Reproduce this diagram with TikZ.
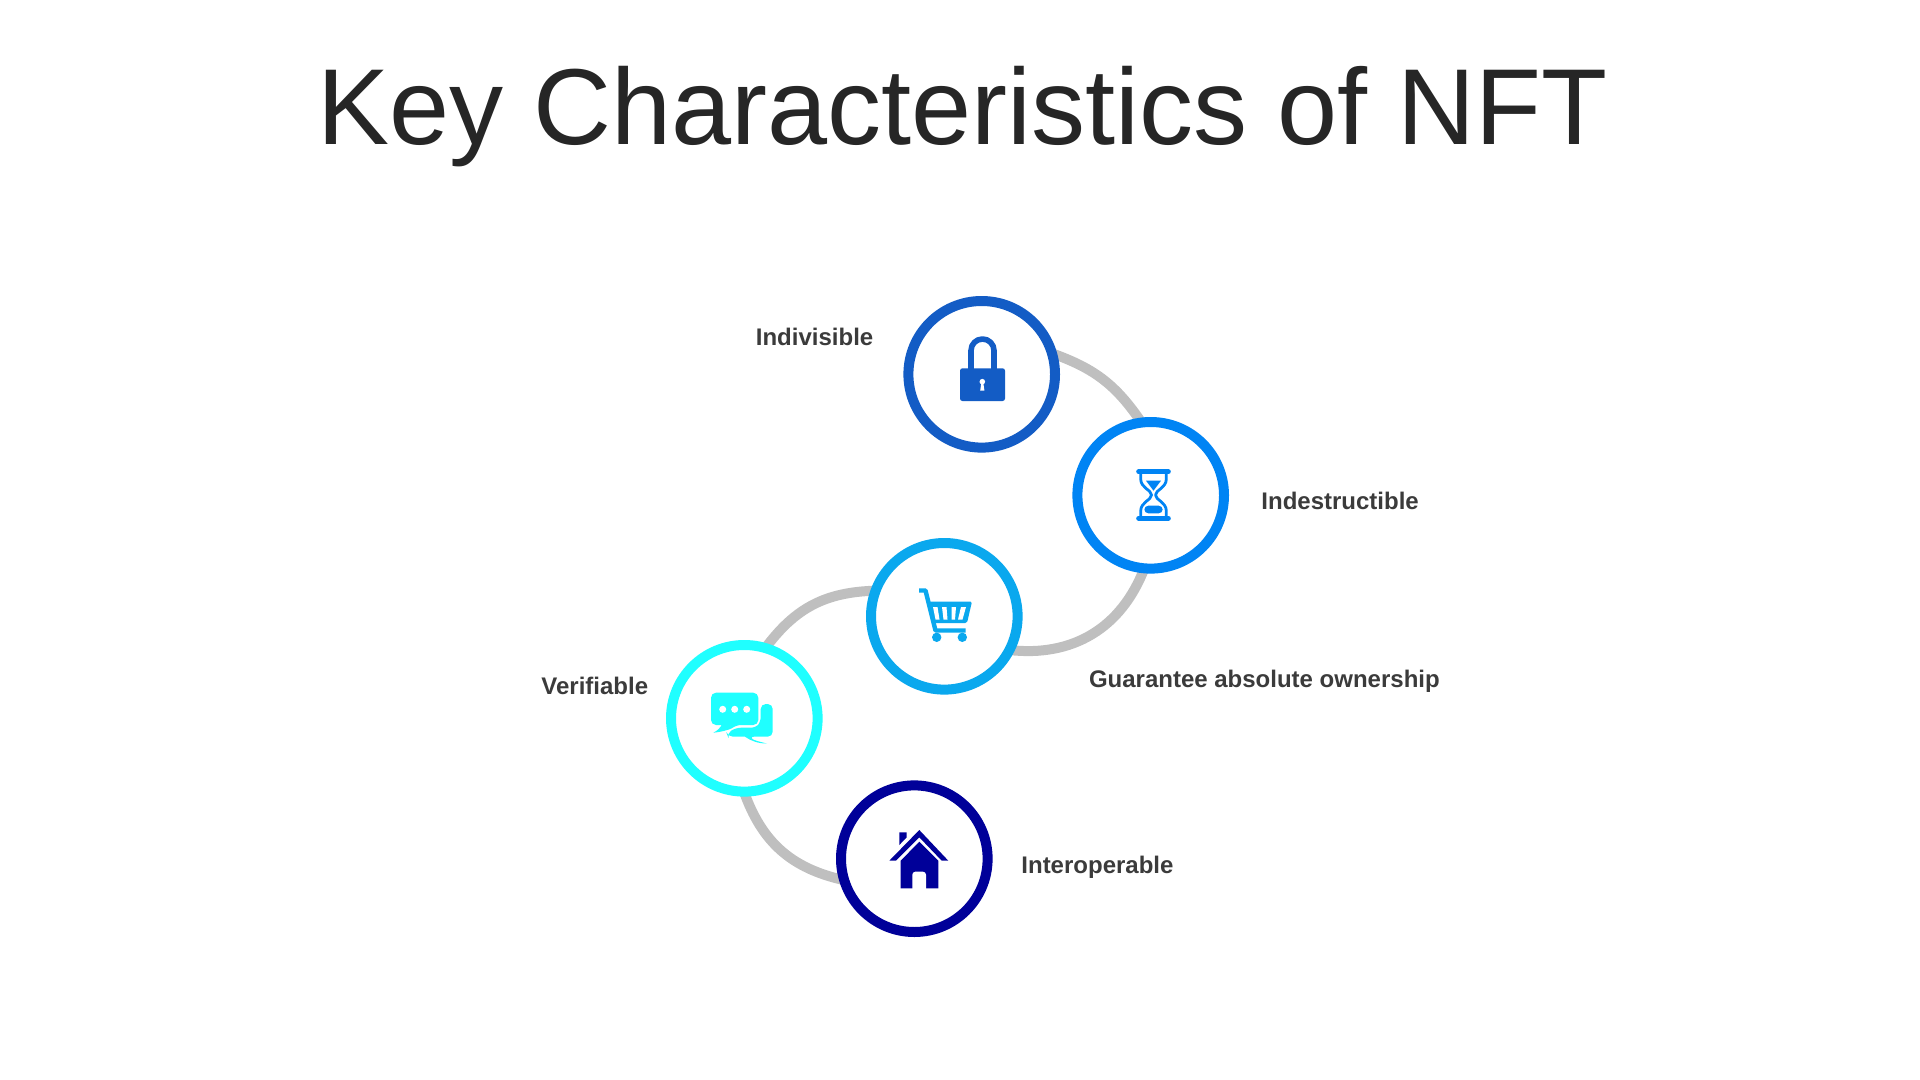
\documentclass[tikz,border=0pt]{standalone}
\usepackage{fontspec}
\setmainfont{Liberation Sans}
\usetikzlibrary{backgrounds}
\definecolor{lockblue}{HTML}{135CC5}
\definecolor{hourblue}{HTML}{0084F4}
\definecolor{cartblue}{HTML}{0AA8EE}
\definecolor{chatcyan}{HTML}{1FFFFF}
\definecolor{housenavy}{HTML}{000099}
\definecolor{arcgray}{HTML}{BFBFBF}
\definecolor{labelgray}{HTML}{3B3B3B}
\definecolor{titlegray}{HTML}{262626}
\begin{document}
\begin{tikzpicture}[x=0.5pt, y=-0.5pt, line join=round,
	ring/.style={circle, draw, fill=white, line width=5pt, minimum size=73.3pt, inner sep=0pt},
	arcline/.style={draw=arcgray, line width=5pt, shorten <=-3pt, shorten >=-3pt},
	itemlabel/.style={anchor=base west, inner sep=0pt, text=labelgray, font=\fontsize{12}{15}\selectfont\bfseries}]
	\useasboundingbox (0,0) rectangle (1920,1080);
	\node[anchor=base, inner sep=0pt, text=titlegray, font=\fontsize{54}{60}\selectfont] (title) at (962.5,145) {Key Characteristics of NFT};
	% rings
	\node[ring, draw=lockblue] (lock) at (981.7,374.3) {};
	\node[ring, draw=hourblue] (hourglass) at (1150.7,495.3) {};
	\node[ring, draw=cartblue] (cart) at (944.3,616.3) {};
	\node[ring, draw=chatcyan] (chat) at (744.3,718.3) {};
	\node[ring, draw=housenavy] (house) at (914.3,858.7) {};
	% grey arcs behind the rings
	\begin{scope}[on background layer]
		\draw[arcline] (lock.14) to[bend left=18] (hourglass.99);
		\draw[arcline] (hourglass.264) to[bend left=38] (cart.334);
		\draw[arcline] (cart.161) to[bend right=26] (chat.72);
		\draw[arcline] (chat.271) to[bend right=29] (house.195);
	\end{scope}
	% labels
	\node[itemlabel] (indivisible) at (755.5,345.7) {Indivisible};
	\node[itemlabel] (indestructible) at (1261,509.2) {Indestructible};
	\node[itemlabel] (ownership) at (1088.6,687.2) {Guarantee absolute ownership};
	\node[itemlabel] (verifiable) at (541,694.7) {Verifiable};
	\node[itemlabel] (interoperable) at (1021,873.2) {Interoperable};
	% lock
	\draw[lockblue, line width=2.8pt] (971,369)--(971,350.5) arc (180:360:11.5)--(994,369);
	\fill[lockblue, rounded corners=1.2pt] (960,368.3) rectangle (1005,401);
	\fill[white] (982.3,381.7) circle (2.8);
	\fill[white] (981.3,383)--(983.3,383)--(984.4,390.5)--(980.2,390.5)--cycle;
	% hourglass
	\draw[hourblue, line width=2.3pt, line cap=round] (1138.5,471.7)--(1168.5,471.7);
	\draw[hourblue, line width=2.3pt, line cap=round] (1138.5,518.3)--(1168.5,518.3);
	\draw[hourblue, line width=1.4pt] (1140.7,472)--(1140.7,479) .. controls (1140.7,488) and (1151.5,490) .. (1151.5,495) .. controls (1151.5,500) and (1140.7,502) .. (1140.7,511)--(1140.7,518);
	\draw[hourblue, line width=1.4pt] (1166.3,472)--(1166.3,479) .. controls (1166.3,488) and (1155.5,490) .. (1155.5,495) .. controls (1155.5,500) and (1166.3,502) .. (1166.3,511)--(1166.3,518);
	\fill[hourblue] (1146,480.7)--(1161,480.7)--(1153.5,490.7)--cycle;
	\fill[hourblue, rounded corners=2pt] (1144.3,513.3)--(1144.3,505.7)--(1162.7,505.7)--(1162.7,513.3)--cycle;
	% cart
	\draw[cartblue, line width=2.2pt] (919,590.5)--(925.5,590.5)--(935.5,630.5)--(965.5,630.5);
	\fill[cartblue, rounded corners=0.8pt] (929,601.5)--(972,601.5)--(967,623)--(933,623)--cycle;
	\foreach \xa/\xb/\xc/\xd in {933/937.5/935.5/939.5, 942/946.5/943.5/947.5, 951.5/956/951.5/955, 961/966/958/962.5}
		\fill[white] (\xa,607)--(\xb,607)--(\xd,619.5)--(\xc,619.5)--cycle;
	\fill[cartblue] (936.7,637.3) circle (4.7);
	\fill[cartblue] (962.3,637.3) circle (4.7);
	% speech bubbles
	\fill[chatcyan, rounded corners=2.5pt] (760.7,704)--(772.7,704)--(772.7,736.7)--(749,736.7)[sharp corners] .. controls (754,740) and (760,742) .. (767,743.5) .. controls (758,743.5) and (751,741) .. (745,736.7)[rounded corners=2.5pt]--(728,736.7)--(726.7,733.5)--(736,727.7)--(756,727.7)--(760.7,722)--cycle;
	\fill[chatcyan, rounded corners=2.5pt] (711,692.7)--(758.3,692.7)--(758.3,725)--(736,725)[sharp corners] .. controls (731,729) and (722,732) .. (713.3,732.7) .. controls (717,731) and (720,728) .. (721.7,725)[rounded corners=2.5pt]--(711,725)--cycle;
	\foreach \dotx in {722.7,734.7,746.7}
		\fill[white] (\dotx,709.3) circle (3.5);
	% house
	\fill[housenavy] (889.3,860.7)--(919.3,830)--(948.3,860.7)--(941.7,860.7)--(919.3,837.3)--(896,860.7)--cycle;
	\fill[housenavy] (899.3,832.3)--(906.7,832.3)--(906.7,837.3)--(899.3,845)--cycle;
	\fill[housenavy] (919.3,841.7)--(938.3,860.7)--(938.3,888.3)--(900.7,888.3)--(900.7,860.7)--cycle;
	\fill[white, rounded corners=1.5pt] (912.3,888.8)--(912.3,871.7)--(926,871.7)--(926,888.8);
\end{tikzpicture}
\end{document}
